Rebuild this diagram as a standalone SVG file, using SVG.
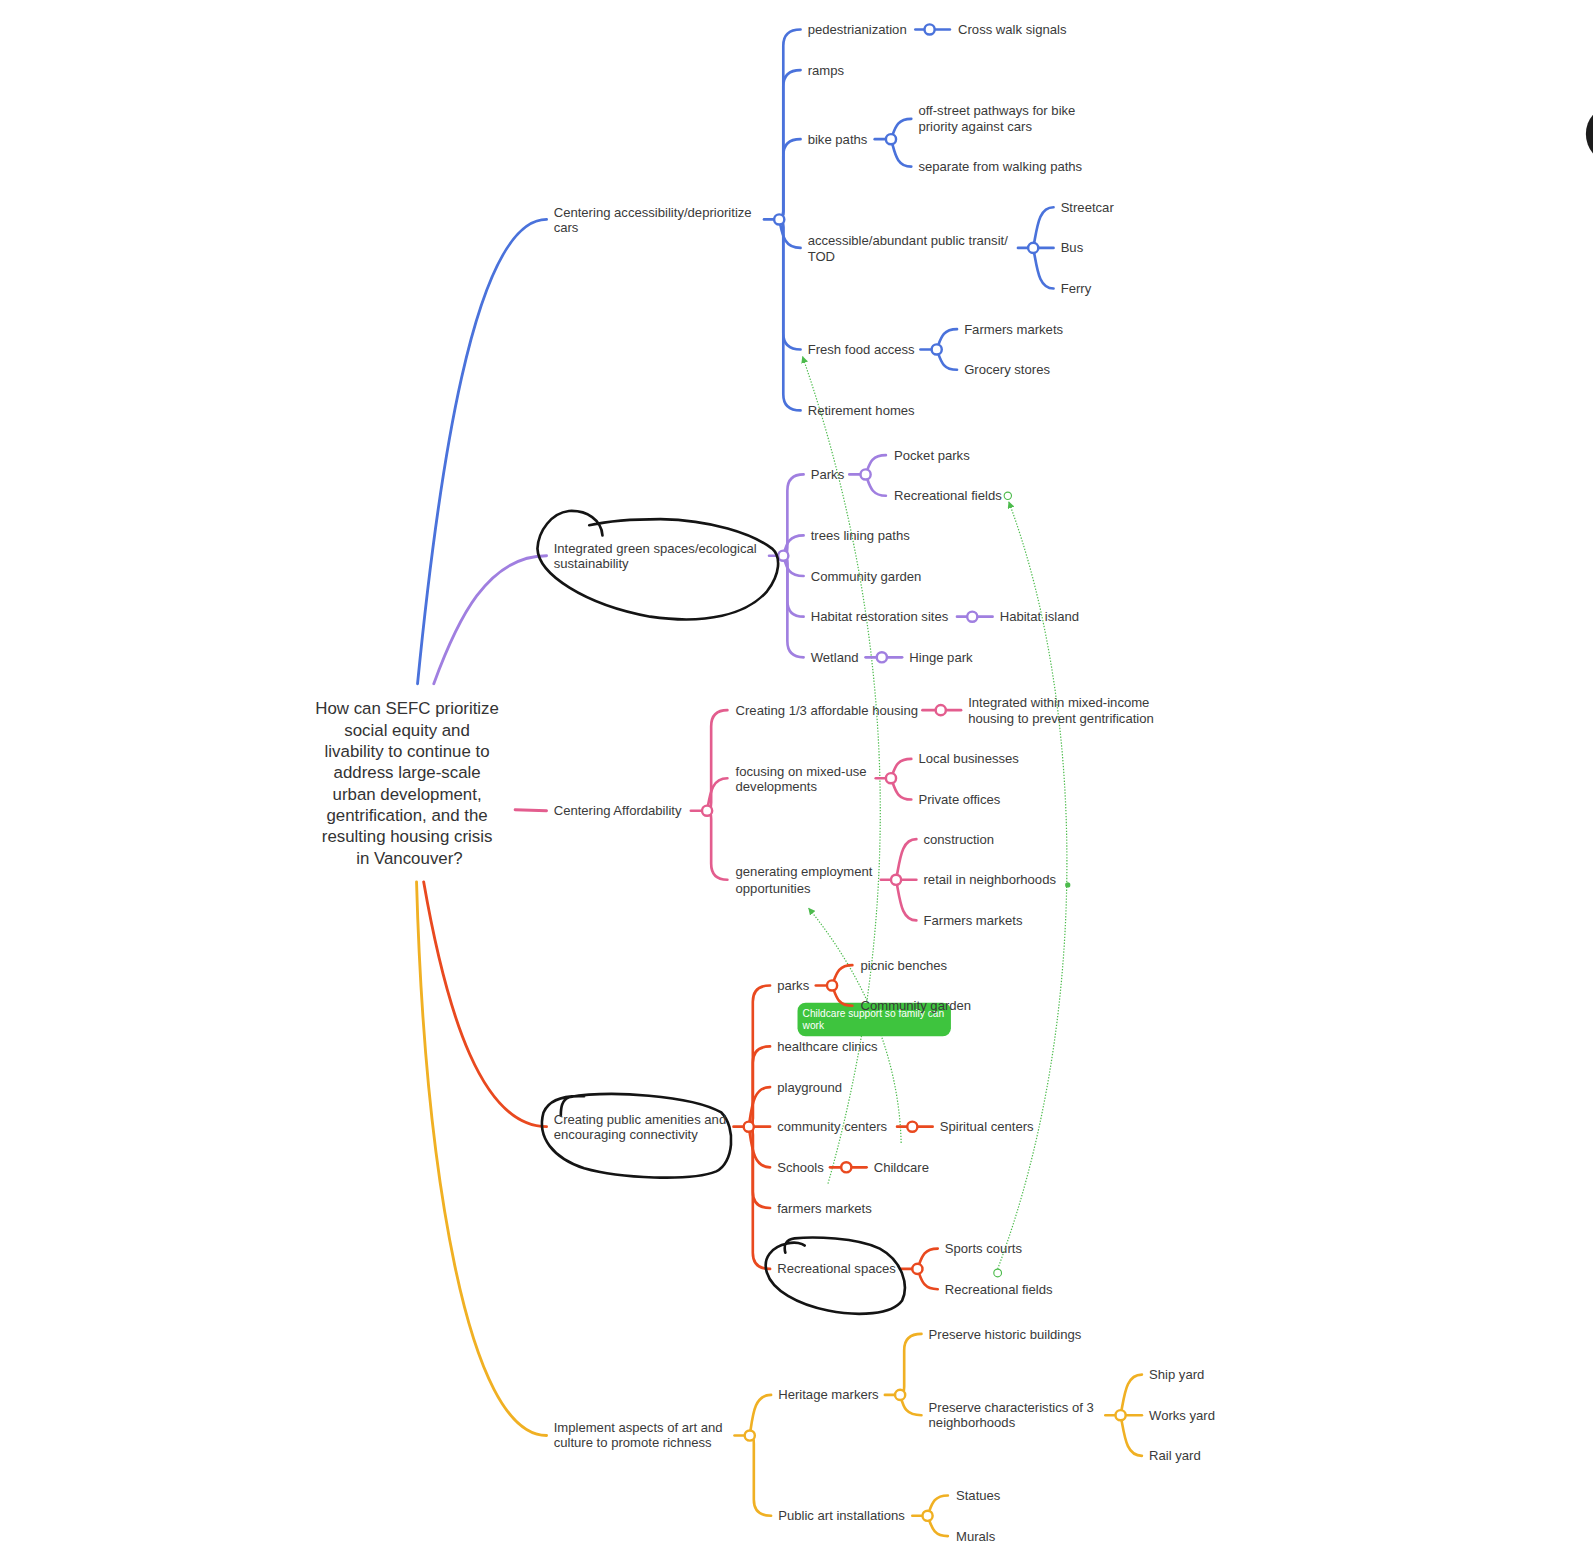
<svg xmlns="http://www.w3.org/2000/svg" width="1593" height="1563" viewBox="0 0 1593 1563">
<style>
.t{font-family:"Liberation Sans",Arial,sans-serif;font-size:12.9px;fill:#3a3a3a}
.root{font-size:16.6px;text-anchor:middle;fill:#333}
.br{fill:none;stroke-width:2.6;stroke-linecap:round}
.main{stroke-width:2.8}
.hub{fill:#fff;stroke-width:2.4}
.b{stroke:#4a72db}.p{stroke:#a07fe0}.k{stroke:#e35d8e}.r{stroke:#e9491f}.y{stroke:#f0b023}
.rel{fill:none;stroke:#4cbb4c;stroke-width:1.2;stroke-dasharray:1.3 1.6}
.ink{fill:none;stroke:#141414;stroke-width:2.6;stroke-linecap:round;stroke-linejoin:round}
.lbl{font-family:"Liberation Sans",Arial,sans-serif;font-size:10px;fill:#fff}
</style>
<defs>
<marker id="ga" viewBox="0 0 10 10" refX="9" refY="5" markerWidth="7" markerHeight="7" markerUnits="userSpaceOnUse" orient="auto"><path d="M0,0 L10,5 L0,10 z" fill="#4cbb4c"/></marker>
</defs>
<rect width="1593" height="1563" fill="#fff"/>
<g transform="scale(1.01594)">
<g id="relations">
<path class="rel" d="M815 1165C885 920 890 640 790 351" marker-end="url(#ga)"/>
<path class="rel" d="M887 1125C885 1040 850 960 796 894" marker-end="url(#ga)"/>
<path class="rel" d="M982 1249C1072 1010 1070 700 993 494" marker-end="url(#ga)"/>
<circle cx="992" cy="488" r="3.6" fill="#fff" stroke="#4cbb4c" stroke-width="1.1"/>
<circle cx="982" cy="1253" r="3.8" fill="#fff" stroke="#4cbb4c" stroke-width="1.1"/>
<circle cx="1051" cy="871" r="2.6" fill="#4cbb4c"/>
<g id="rel-label">
<rect x="785" y="987" width="151" height="33" rx="8" fill="#3ec43e"/>
<text class="lbl" x="790" y="1001.5">Childcare support so family can</text>
<text class="lbl" x="790" y="1012.5">work</text>
</g>
</g>
<g id="connectors">
<path class="br main b" d="M411 673C430 480 465 216 538 216"/>
<path class="br main p" d="M427 673C450 610 480 547 538 547"/>
<path class="br main k" d="M507 797L538 798"/>
<path class="br main r" d="M417 868C440 1000 475 1109 538 1109"/>
<path class="br main y" d="M410 868C418 1150 460 1413 538 1413"/>
<g class="br b">
<path d="M752 216H767"/>
<path d="M767 216Q771 216 771 208L771 45Q771 29 788 29"/>
<path d="M767 216Q771 216 771 208L771 85Q771 69 788 69"/>
<path d="M767 216Q771 216 771 208L771 153Q771 137 788 137"/>
<path d="M767 216C770 230 771 244 788 244"/>
<path d="M767 216Q771 216 771 224L771 328Q771 344 788 344"/>
<path d="M767 216Q771 216 771 224L771 388Q771 404 788 404"/>
<path d="M901 29H935"/>
<path d="M861 137H877"/>
<path d="M877 137C881 127 882 117 897 117"/>
<path d="M877 137C881 150 882 164 897 164"/>
<path d="M1002 244H1037"/>
<path d="M1017 244C1021 224 1022 204 1037 204"/>
<path d="M1017 244C1021 264 1022 284 1037 284"/>
<path d="M906 344H922"/>
<path d="M922 344C926 334 927 324 942 324"/>
<path d="M922 344C926 354 927 364 942 364"/>
</g>
<g class="br p">
<path d="M757 547H771"/>
<path d="M771 547Q775 547 775 539L775 483Q775 467 791 467"/>
<path d="M771 547C774 537 775 527 791 527"/>
<path d="M771 547C774 557 775 567 791 567"/>
<path d="M771 547Q775 547 775 555L775 591Q775 607 791 607"/>
<path d="M771 547Q775 547 775 555L775 631Q775 647 791 647"/>
<path d="M836 467H852"/>
<path d="M852 467C856 457 857 448 872 448"/>
<path d="M852 467C856 477 857 488 872 488"/>
<path d="M942 607H977"/>
<path d="M852 647H888"/>
</g>
<g class="br k">
<path d="M680 798H696"/>
<path d="M696 798Q700 798 700 790L700 715Q700 699 716 699"/>
<path d="M696 798C699 782 700 766 716 766"/>
<path d="M696 798Q700 798 700 806L700 850Q700 866 716 866"/>
<path d="M908 699H946"/>
<path d="M862 766H877"/>
<path d="M877 766C881 756 882 747 897 747"/>
<path d="M877 766C881 776 882 787 897 787"/>
<path d="M867 866H902"/>
<path d="M882 866C886 846 887 826 902 826"/>
<path d="M882 866C886 886 887 906 902 906"/>
</g>
<g class="br r">
<path d="M722 1109H737"/>
<path d="M737 1109Q741 1109 741 1101L741 986Q741 970 758 970"/>
<path d="M737 1109Q741 1109 741 1101L741 1046Q741 1030 758 1030"/>
<path d="M737 1109C740 1090 741 1070 758 1070"/>
<path d="M737 1109H758"/>
<path d="M737 1109C740 1128 741 1149 758 1149"/>
<path d="M737 1109Q741 1109 741 1117L741 1173Q741 1189 758 1189"/>
<path d="M737 1109Q741 1109 741 1117L741 1233Q741 1249 758 1249"/>
<path d="M803 970H819"/>
<path d="M819 970C823 960 824 950 839 950"/>
<path d="M819 970C823 980 824 990 839 990"/>
<path d="M883 1109H918"/>
<path d="M817 1149H853"/>
<path d="M886 1249H903"/>
<path d="M903 1249C907 1239 908 1229 923 1229"/>
<path d="M903 1249C907 1259 908 1269 923 1269"/>
</g>
<g class="br y">
<path d="M723 1413H738"/>
<path d="M738 1413C741 1393 742 1373 759 1373"/>
<path d="M738 1413Q742 1413 742 1421L742 1476Q742 1492 759 1492"/>
<path d="M871 1373H886"/>
<path d="M886 1373Q890 1373 890 1365L890 1329Q890 1313 907 1313"/>
<path d="M886 1373C889 1383 890 1393 907 1393"/>
<path d="M1088 1393H1103"/>
<path d="M1103 1393C1107 1373 1108 1353 1124 1353"/>
<path d="M1103 1393H1124"/>
<path d="M1103 1393C1107 1413 1108 1433 1124 1433"/>
<path d="M898 1492H913"/>
<path d="M913 1492C917 1482 918 1472 933 1472"/>
<path d="M913 1492C917 1502 918 1512 933 1512"/>
</g>
<g id="hubs">
<circle class="hub b" cx="767" cy="216" r="5"/>
<circle class="hub b" cx="915" cy="29" r="5"/>
<circle class="hub b" cx="877" cy="137" r="5"/>
<circle class="hub b" cx="1017" cy="244" r="5"/>
<circle class="hub b" cx="922" cy="344" r="5"/>
<circle class="hub p" cx="771" cy="547" r="5"/>
<circle class="hub p" cx="852" cy="467" r="5"/>
<circle class="hub p" cx="957" cy="607" r="5"/>
<circle class="hub p" cx="868" cy="647" r="5"/>
<circle class="hub k" cx="696" cy="798" r="5"/>
<circle class="hub k" cx="926" cy="699" r="5"/>
<circle class="hub k" cx="877" cy="766" r="5"/>
<circle class="hub k" cx="882" cy="866" r="5"/>
<circle class="hub r" cx="737" cy="1109" r="5"/>
<circle class="hub r" cx="819" cy="970" r="5"/>
<circle class="hub r" cx="898" cy="1109" r="5"/>
<circle class="hub r" cx="833" cy="1149" r="5"/>
<circle class="hub r" cx="903" cy="1249" r="5"/>
<circle class="hub y" cx="738" cy="1413" r="5"/>
<circle class="hub y" cx="886" cy="1373" r="5"/>
<circle class="hub y" cx="1103" cy="1393" r="5"/>
<circle class="hub y" cx="913" cy="1492" r="5"/>
</g>
</g>
<g id="ink">
<path class="ink" d="M593 527C592 512 578 502 560 503C543 505 530 522 529 540C530 565 575 595 640 607C695 615 735 605 755 582C768 565 769 548 760 540C740 525 700 512 650 511C620 511 598 513 580 517"/>
<path class="ink" d="M552 1098C552 1090 553 1083 560 1080C600 1073 680 1078 710 1095C725 1110 722 1145 705 1153C680 1163 610 1160 575 1150C545 1140 528 1120 535 1095C540 1083 555 1078 575 1079"/>
<path class="ink" d="M773 1233C771 1225 774 1220 782 1219C800 1217 843 1218 866 1229C888 1241 895 1265 888 1280C878 1294 845 1296 815 1290C785 1284 760 1270 755 1253C750 1238 760 1227 775 1224C783 1222 790 1224 792 1226"/>
<ellipse cx="1585" cy="132" rx="24" ry="27" fill="#1c1c1c"/>
</g>
<g id="n-root"><text class="t root">
<tspan x="403" y="703">How can SEFC prioritize</tspan>
<tspan x="403" y="724">social equity and</tspan>
<tspan x="403" y="745">livability to continue to</tspan>
<tspan x="403" y="766">address large-scale</tspan>
<tspan x="403" y="787">urban development,</tspan>
<tspan x="403" y="808">gentrification, and the</tspan>
<tspan x="403" y="829">resulting housing crisis</tspan>
<tspan x="403" y="850">in Vancouver?</tspan>
</text></g>
<g id="n-access"><text class="t"><tspan x="545" y="213.5">Centering accessibility/deprioritize</tspan><tspan x="545" y="228.5">cars</tspan></text></g>
<g id="n-ped"><text class="t" x="795" y="33.5">pedestrianization</text></g>
<g id="n-cross"><text class="t" x="943" y="33.5">Cross walk signals</text></g>
<g id="n-ramps"><text class="t" x="795" y="73.5">ramps</text></g>
<g id="n-bike"><text class="t" x="795" y="141.5">bike paths</text></g>
<g id="n-offstreet"><text class="t"><tspan x="904" y="113.5">off-street pathways for bike</tspan><tspan x="904" y="128.5">priority against cars</tspan></text></g>
<g id="n-separate"><text class="t" x="904" y="168.5">separate from walking paths</text></g>
<g id="n-transit"><text class="t"><tspan x="795" y="241.5">accessible/abundant public transit/</tspan><tspan x="795" y="256.5">TOD</tspan></text></g>
<g id="n-streetcar"><text class="t" x="1044" y="208.5">Streetcar</text></g>
<g id="n-bus"><text class="t" x="1044" y="248.5">Bus</text></g>
<g id="n-ferry"><text class="t" x="1044" y="288.5">Ferry</text></g>
<g id="n-fresh"><text class="t" x="795" y="348.5">Fresh food access</text></g>
<g id="n-farmers1"><text class="t" x="949" y="328.5">Farmers markets</text></g>
<g id="n-grocery"><text class="t" x="949" y="368.5">Grocery stores</text></g>
<g id="n-retire"><text class="t" x="795" y="408.5">Retirement homes</text></g>
<g id="n-green"><text class="t"><tspan x="545" y="544.5">Integrated green spaces/ecological</tspan><tspan x="545" y="559.5">sustainability</tspan></text></g>
<g id="n-parks"><text class="t" x="798" y="471.5">Parks</text></g>
<g id="n-pocket"><text class="t" x="880" y="452.5">Pocket parks</text></g>
<g id="n-recfields1"><text class="t" x="880" y="492.5">Recreational fields</text></g>
<g id="n-trees"><text class="t" x="798" y="531.5">trees lining paths</text></g>
<g id="n-commgarden1"><text class="t" x="798" y="571.5">Community garden</text></g>
<g id="n-habitat"><text class="t" x="798" y="611.5">Habitat restoration sites</text></g>
<g id="n-island"><text class="t" x="984" y="611.5">Habitat island</text></g>
<g id="n-wetland"><text class="t" x="798" y="651.5">Wetland</text></g>
<g id="n-hinge"><text class="t" x="895" y="651.5">Hinge park</text></g>
<g id="n-afford"><text class="t" x="545" y="802.5">Centering Affordability</text></g>
<g id="n-third"><text class="t" x="724" y="703.5">Creating 1/3 affordable housing</text></g>
<g id="n-mixedinc"><text class="t"><tspan x="953" y="695.5">Integrated within mixed-income</tspan><tspan x="953" y="711.5">housing to prevent gentrification</tspan></text></g>
<g id="n-mixeduse"><text class="t"><tspan x="724" y="763.5">focusing on mixed-use</tspan><tspan x="724" y="778.5">developments</tspan></text></g>
<g id="n-local"><text class="t" x="904" y="751.5">Local businesses</text></g>
<g id="n-private"><text class="t" x="904" y="791.5">Private offices</text></g>
<g id="n-employ"><text class="t"><tspan x="724" y="862.5">generating employment</tspan><tspan x="724" y="878.5">opportunities</tspan></text></g>
<g id="n-construction"><text class="t" x="909" y="830.5">construction</text></g>
<g id="n-retail"><text class="t" x="909" y="870.5">retail in neighborhoods</text></g>
<g id="n-farmers2"><text class="t" x="909" y="910.5">Farmers markets</text></g>
<g id="n-amenities"><text class="t"><tspan x="545" y="1106.5">Creating public amenities and</tspan><tspan x="545" y="1121.5">encouraging connectivity</tspan></text></g>
<g id="n-parks2"><text class="t" x="765" y="974.5">parks</text></g>
<g id="n-picnic"><text class="t" x="847" y="954.5">picnic benches</text></g>
<g id="n-commgarden2"><text class="t" x="847" y="994.5">Community garden</text></g>
<g id="n-health"><text class="t" x="765" y="1034.5">healthcare clinics</text></g>
<g id="n-play"><text class="t" x="765" y="1074.5">playground</text></g>
<g id="n-commcenters"><text class="t" x="765" y="1113.5">community centers</text></g>
<g id="n-spiritual"><text class="t" x="925" y="1113.5">Spiritual centers</text></g>
<g id="n-schools"><text class="t" x="765" y="1153.5">Schools</text></g>
<g id="n-childcare"><text class="t" x="860" y="1153.5">Childcare</text></g>
<g id="n-farmers3"><text class="t" x="765" y="1193.5">farmers markets</text></g>
<g id="n-recspaces"><text class="t" x="765" y="1253.5">Recreational spaces</text></g>
<g id="n-sports"><text class="t" x="930" y="1233.5">Sports courts</text></g>
<g id="n-recfields2"><text class="t" x="930" y="1273.5">Recreational fields</text></g>
<g id="n-art"><text class="t"><tspan x="545" y="1409.5">Implement aspects of art and</tspan><tspan x="545" y="1424.5">culture to promote richness</tspan></text></g>
<g id="n-heritage"><text class="t" x="766" y="1377.5">Heritage markers</text></g>
<g id="n-historic"><text class="t" x="914" y="1317.5">Preserve historic buildings</text></g>
<g id="n-charact"><text class="t"><tspan x="914" y="1389.5">Preserve characteristics of 3</tspan><tspan x="914" y="1404.5">neighborhoods</tspan></text></g>
<g id="n-ship"><text class="t" x="1131" y="1357.5">Ship yard</text></g>
<g id="n-works"><text class="t" x="1131" y="1397.5">Works yard</text></g>
<g id="n-rail"><text class="t" x="1131" y="1437.5">Rail yard</text></g>
<g id="n-publicart"><text class="t" x="766" y="1496.5">Public art installations</text></g>
<g id="n-statues"><text class="t" x="941" y="1476.5">Statues</text></g>
<g id="n-murals"><text class="t" x="941" y="1516.5">Murals</text></g>
</g>
</svg>
